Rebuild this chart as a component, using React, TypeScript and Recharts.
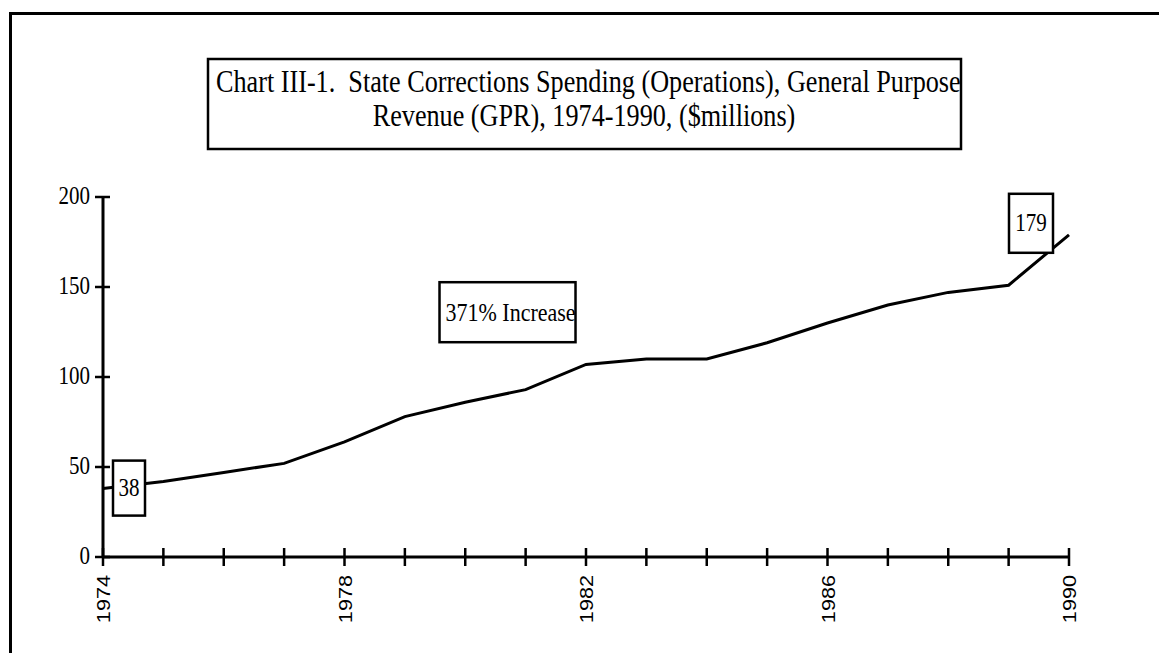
import { LineChart, Line, XAxis, YAxis, ReferenceDot } from "recharts";

const years = [
  1974, 1975, 1976, 1977, 1978, 1979, 1980, 1981, 1982, 1983, 1984, 1985,
  1986, 1987, 1988, 1989, 1990,
];
const spending = [
  38, 42, 47, 52, 64, 78, 86, 93, 107, 110, 110, 119, 130, 140, 147, 151, 179,
];
const labeledYears = [1974, 1978, 1982, 1986, 1990];
const yTicks = [0, 50, 100, 150, 200];

const titleLines = [
  "Chart III-1.  State Corrections Spending (Operations), General Purpose",
  "Revenue (GPR), 1974-1990, ($millions)",
];
const growthNote = { x: 1980.7, y: 136, text: "371% Increase" };

const data = years.map((year, i) => ({ year, value: spending[i] }));

const SERIF = "'Liberation Serif', 'Times New Roman', serif";
const SANS = "'Liberation Sans', Arial, sans-serif";
// the scanned print has tall, narrow letters
const STRETCH = 1.17;

function TallText(props: any) {
  const { x, y, children, anchor = "start", size = 21, family = SERIF, baseline, rotate = 0, clip } = props;
  const t = rotate
    ? `translate(${x} ${y}) rotate(${rotate}) scale(${STRETCH} 1)`
    : `translate(${x} ${y}) scale(1 ${STRETCH})`;
  return (
    <g clipPath={clip}>
      <text
        transform={t}
        textAnchor={anchor}
        dominantBaseline={baseline}
        fontFamily={family}
        fontSize={size}
        fill="#000"
        style={{ whiteSpace: "pre" }}
      >
        {children}
      </text>
    </g>
  );
}

function YTick(props: any) {
  const { x, y, payload } = props;
  return (
    <g>
      <line x1={x - 8} x2={x + 7} y1={y} y2={y} stroke="#000" strokeWidth={2.5} />
      <TallText x={x - 13} y={y + 7} anchor="end" size={21}>
        {payload.value}
      </TallText>
    </g>
  );
}

function XTick(props: any) {
  const { x, y, payload } = props;
  return (
    <g>
      <line x1={x} x2={x} y1={y - 9} y2={y + 9} stroke="#000" strokeWidth={2.5} />
      {labeledYears.includes(payload.value) && (
        <TallText x={x + 7} y={y + 18} anchor="end" size={18.5} family={SANS} rotate={-90}>
          {payload.value}
        </TallText>
      )}
    </g>
  );
}

// boxed label drawn at an offset from its anchor point
function boxShape(
  label: string,
  dx: number,
  dy: number,
  w: number,
  h: number,
  id: string,
  size: number,
  centered: boolean
) {
  return (props: any) => {
    const { cx, cy } = props;
    const left = cx + dx;
    const top = cy + dy;
    return (
      <g>
        <defs>
          <clipPath id={id}>
            <rect x={left} y={top} width={w} height={h} />
          </clipPath>
        </defs>
        <rect x={left} y={top} width={w} height={h} fill="#fff" stroke="#000" strokeWidth={2.5} />
        <TallText
          x={centered ? left + w / 2 : left + 6}
          y={top + h / 2 + size * 0.33 * STRETCH}
          anchor={centered ? "middle" : "start"}
          size={size}
          clip={`url(#${id})`}
        >
          {label}
        </TallText>
      </g>
    );
  };
}

export default function App() {
  return (
    <div
      style={{
        position: "absolute",
        left: 0,
        top: 0,
        width: 1159,
        height: 653,
        background: "#fff",
        overflow: "hidden",
      }}
    >
      <LineChart
        width={1159}
        height={653}
        data={data}
        margin={{ top: 197, right: 90, bottom: 36, left: 43 }}
        style={{ position: "absolute", left: 0, top: 0 }}
      >
        <XAxis
          dataKey="year"
          type="number"
          domain={[1974, 1990]}
          ticks={years}
          interval={0}
          height={60}
          tickSize={0}
          tickMargin={0}
          axisLine={{ stroke: "#000", strokeWidth: 3 }}
          tick={<XTick />}
        />
        <YAxis
          type="number"
          domain={[0, 200]}
          ticks={yTicks}
          width={60}
          tickSize={0}
          tickMargin={0}
          axisLine={{ stroke: "#000", strokeWidth: 3 }}
          tick={<YTick />}
        />
        <Line
          type="linear"
          dataKey="value"
          stroke="#000"
          strokeWidth={3}
          dot={false}
          isAnimationActive={false}
        />
        <ReferenceDot
          x={years[0]}
          y={spending[0]}
          r={0}
          shape={boxShape(String(spending[0]), 10, -28, 32, 55, "clip38", 21, true)}
        />
        <ReferenceDot
          x={years[years.length - 1]}
          y={spending[spending.length - 1]}
          r={0}
          shape={boxShape(String(spending[spending.length - 1]), -60, -41, 44, 59, "clip179", 21, true)}
        />
        <ReferenceDot
          x={growthNote.x}
          y={growthNote.y}
          r={0}
          shape={boxShape(growthNote.text, -68, -30, 136, 60, "clipNote", 22, false)}
        />
      </LineChart>
      <svg
        width={1159}
        height={653}
        style={{ position: "absolute", left: 0, top: 0, pointerEvents: "none" }}
      >
        <defs>
          <clipPath id="titleClip">
            <rect x={208} y={59} width={753} height={90} />
          </clipPath>
        </defs>
        <path d="M10.5 653 V13.5 H1159" fill="none" stroke="#000" strokeWidth={3} />
        <rect x={208} y={59} width={753} height={90} fill="#fff" stroke="#000" strokeWidth={2.5} />
        <TallText x={216} y={92} size={26.2} clip="url(#titleClip)">
          {titleLines[0]}
        </TallText>
        <TallText x={584} y={126} size={26.2} anchor="middle" clip="url(#titleClip)">
          {titleLines[1]}
        </TallText>
      </svg>
    </div>
  );
}
